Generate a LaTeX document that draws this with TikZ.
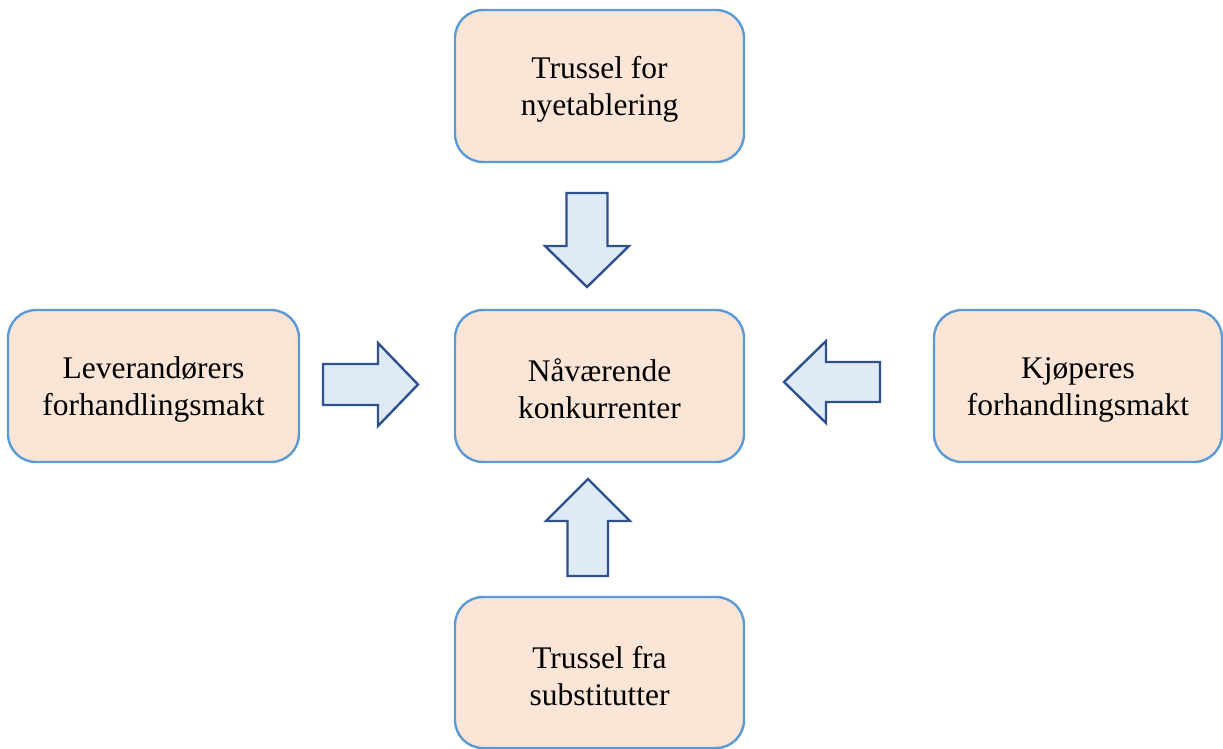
\documentclass[tikz,border=0pt]{standalone}
\usepackage{fontspec}
\setmainfont{Liberation Serif}
\definecolor{boxfill}{HTML}{FBE5D6}
\definecolor{boxline}{HTML}{5B9BD5}
\definecolor{arrfill}{HTML}{DEEBF7}
\definecolor{arrline}{HTML}{2F528F}
\tikzset{
  forcebox/.style={draw=boxline, fill=boxfill, line width=2.4pt, rounded corners=28pt,
    minimum width=289pt, minimum height=152pt, inner sep=0pt, align=center,
    font=\fontsize{31.5}{37}\selectfont, text=black},
  blockarrow/.style={draw=arrline, fill=arrfill, line width=2.4pt, line join=miter}
}
\newcommand{\dn}{\rule{0pt}{29pt}}
\begin{document}
\begin{tikzpicture}[x=1pt,y=-1pt]
\useasboundingbox (0,0) rectangle (1223,749);
\node[forcebox] (top) at (599.5,86) {\dn Trussel for\\nyetablering};
\node[forcebox] (mid) at (599.5,386) {\dn Nåværende\\konkurrenter};
\node[forcebox, minimum width=291pt] (left) at (153.5,386) {\dn Leverandørers\\forhandlingsmakt};
\node[forcebox, minimum width=288pt] (right) at (1078,386) {\dn Kjøperes\\forhandlingsmakt};
\node[forcebox, minimum height=151pt] (bottom) at (599.5,672.5) {\dn Trussel fra\\substitutter};
% top arrow (down)
\draw[blockarrow] (566.5,193) -- (607.5,193) -- (607.5,246) -- (629,246) -- (587,287) -- (545,246) -- (566.5,246) -- cycle;
% bottom arrow (up)
\draw[blockarrow] (567.5,576) -- (608,576) -- (608,521) -- (630,521) -- (588,479) -- (546,521) -- (567.5,521) -- cycle;
% left arrow (right)
\draw[blockarrow] (323,364) -- (378,364) -- (378,343) -- (418,384.5) -- (378,426) -- (378,405) -- (323,405) -- cycle;
% right arrow (left)
\draw[blockarrow] (880,362) -- (826,362) -- (826,341) -- (784,382) -- (826,423) -- (826,402) -- (880,402) -- cycle;
\end{tikzpicture}
\end{document}
